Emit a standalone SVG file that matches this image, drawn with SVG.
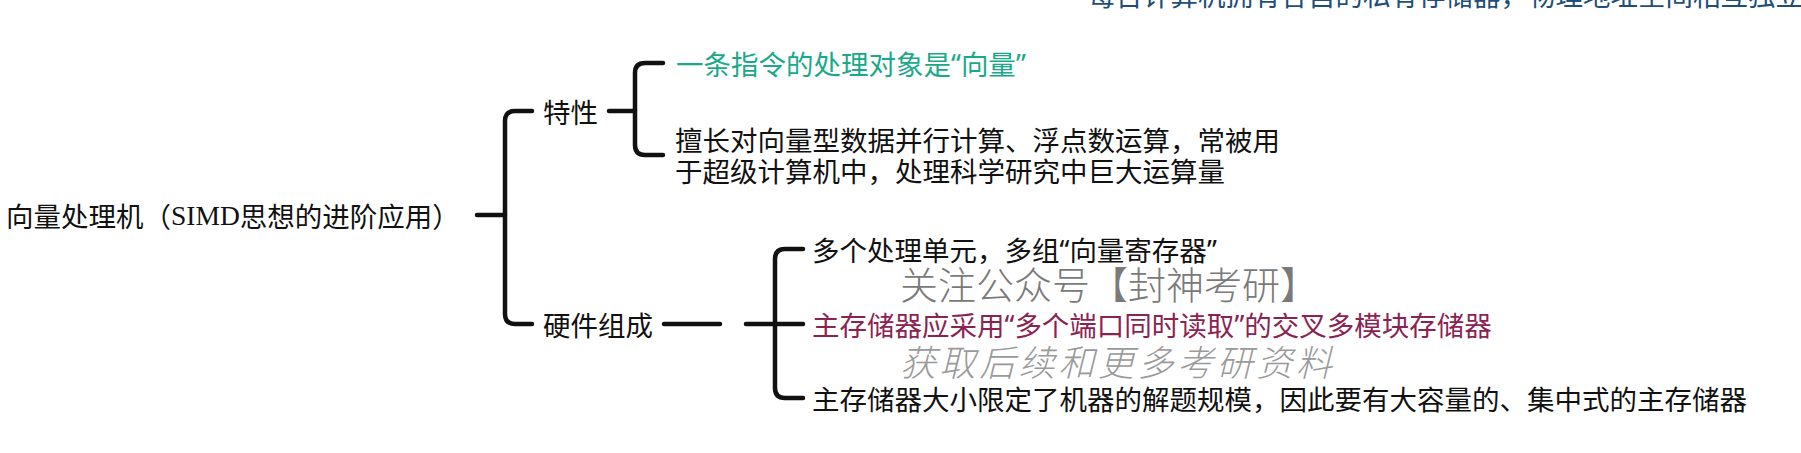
<svg xmlns="http://www.w3.org/2000/svg" width="1801" height="453" viewBox="0 0 1801 453">
<style>
text{font-family:"Noto Sans CJK SC","Noto Sans",sans-serif;font-size:27.5px;fill:#111;dominant-baseline:central}
.q{font-family:"Noto Sans",sans-serif}
.teal{fill:#19a98a}
.purple{fill:#8a2352}
.wm1{font-size:38px;fill:#7a7a7a;font-weight:300}
.wm2{font-size:36px;fill:#9a9a9a;font-weight:300;font-style:italic;letter-spacing:3.6px}
.top{fill:#1f4e79;dominant-baseline:auto}
.serif{font-family:"Liberation Serif",serif}
.conn path{fill:none;stroke:#111;stroke-width:4.5;stroke-linecap:round;stroke-linejoin:round}
</style>
<rect width="1801" height="453" fill="#fff"/>
<text class="top" x="1088" y="6">每台计算机拥有各自的私有存储器，物理地址空间相互独立</text>
<g class="conn" id="connectors">
<path d="M477,215 H505"/>
<path d="M532,111 H515 Q505,111 505,121 V314 Q505,324 515,324 H532"/>
<path d="M609,111 H635"/>
<path d="M663,63 H645 Q635,63 635,73 V145 Q635,155 645,155 H663"/>
<path d="M664,324 H720"/>
<path d="M746,324 H803"/>
<path d="M803,249 H785 Q775,249 775,259 V388 Q775,398 785,398 H803"/>
</g>
<g id="root"><text x="6" y="215">向量处理机（<tspan class="serif">SIMD</tspan>思想的进阶应用）</text></g>
<g id="n-texing"><text x="543" y="111">特性</text></g>
<g id="n-texing-1"><text class="teal" x="676" y="63">一条指令的处理对象是<tspan class="q">“</tspan>向量<tspan class="q">”</tspan></text></g>
<g id="n-texing-2"><text x="675" y="139">擅长对向量型数据并行计算、浮点数运算，常被用<tspan x="675" y="170">于超级计算机中，处理科学研究中巨大运算量</tspan></text></g>
<g id="n-yingjian"><text x="543" y="324">硬件组成</text></g>
<g id="n-yingjian-1"><text x="812" y="249">多个处理单元，多组<tspan class="q">“</tspan>向量寄存器<tspan class="q">”</tspan></text></g>
<g id="n-yingjian-2"><text class="purple" x="812" y="324">主存储器应采用<tspan class="q">“</tspan>多个端口同时读取<tspan class="q">”</tspan>的交叉多模块存储器</text></g>
<g id="n-yingjian-3"><text x="812" y="398">主存储器大小限定了机器的解题规模，因此要有大容量的、集中式的主存储器</text></g>
<text class="wm1" x="900" y="282">关注公众号【封神考研】</text>
<text class="wm2" x="900" y="360">获取后续和更多考研资料</text>
</svg>
